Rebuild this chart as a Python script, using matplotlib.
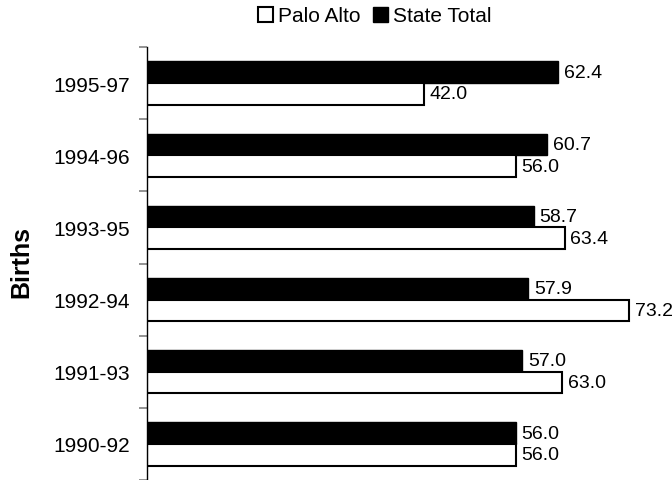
import matplotlib
matplotlib.use("Agg")
import matplotlib.pyplot as plt
from matplotlib.patches import Patch
import numpy as np

plt.rcParams['font.family'] = ['Liberation Sans', 'DejaVu Sans']

# data, bottom to top
periods = ['1990-92', '1991-93', '1992-94', '1993-95', '1994-96', '1995-97']
palo_alto = [56.0, 63.0, 73.2, 63.4, 56.0, 42.0]
state_total = [56.0, 57.0, 57.9, 58.7, 60.7, 62.4]

fig = plt.figure(figsize=(6.72, 4.81), dpi=100)
ax = fig.add_axes([147/672, 0.0, (660-147)/672, (481-48)/481])

y = np.arange(len(periods))
h = 0.3
ax.barh(y + h/2, state_total, height=h, color='black', edgecolor='black', linewidth=1.0)
ax.barh(y - h/2, palo_alto, height=h, color='white', edgecolor='black', linewidth=1.5)

for yi, v in zip(y, state_total):
    ax.text(v + 0.9, yi + h/2, '%.1f' % v, va='center', ha='left', fontsize=14)
for yi, v in zip(y, palo_alto):
    ax.text(v + 0.9, yi - h/2, '%.1f' % v, va='center', ha='left', fontsize=14)

ax.set_xlim(0, 77.9)
ax.set_ylim(-0.5, len(periods) - 0.5)

ax.set_yticks(y)
ax.set_yticklabels(periods, fontsize=15)
ax.set_yticks(np.arange(-0.5, len(periods), 1.0), minor=True)
ax.tick_params(axis='y', which='major', length=0, pad=12)
ax.tick_params(axis='y', which='minor', length=6, width=1.2, color='#808080', direction='out')
ax.set_xticks([])

for s in ['top', 'right', 'bottom']:
    ax.spines[s].set_visible(False)
ax.spines['left'].set_linewidth(1.0)

fig.text(21/672, (481-262)/481, 'Births', rotation=90, fontsize=18,
         fontweight='bold', ha='center', va='center')

handles = [Patch(facecolor='white', edgecolor='black', linewidth=1.5, label='Palo Alto'),
           Patch(facecolor='black', edgecolor='black', label='State Total')]
fig.legend(handles=handles, loc='center', bbox_to_anchor=(375/672, 1 - 17/481),
           ncol=2, frameon=False, fontsize=15, handlelength=0.7, handleheight=0.7,
           handletextpad=0.25, columnspacing=0.6, borderpad=0)

fig.savefig('out.png', dpi=100)
